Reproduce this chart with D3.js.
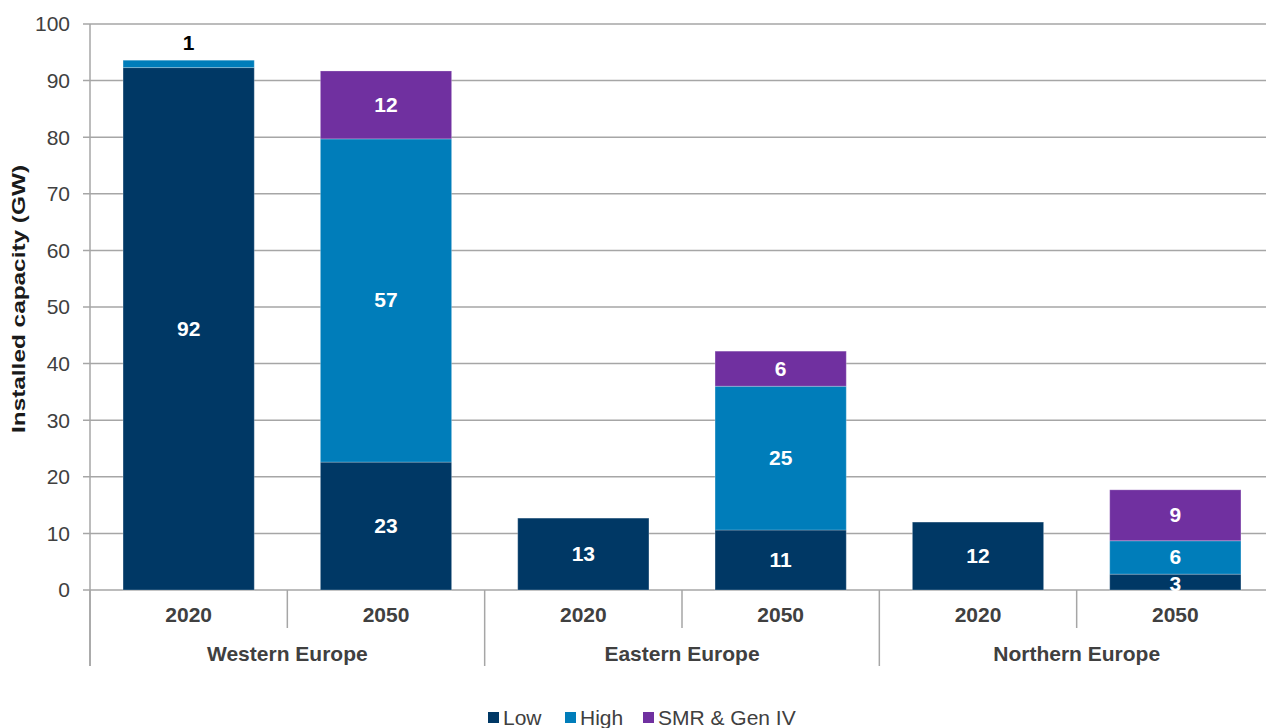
<!DOCTYPE html>
<html>
<head>
<meta charset="utf-8">
<script src="https://cdn.jsdelivr.net/npm/d3@7"></script>
<style>
  body { margin: 0; background: #fff; }
  svg { display: block; font-family: Arial, "Liberation Sans", sans-serif; }
</style>
</head>
<body>
<div id="chart"></div>
<script>
const regions = ["Western Europe", "Eastern Europe", "Northern Europe"];
const years = ["2020", "2050"];
const seriesNames = ["Low", "High", "SMR & Gen IV"];
const lowValues = [92.3, 22.6, 12.7, 10.6, 12.0, 2.8];
const highValues = [1.3, 57.1, 0, 25.4, 0, 5.9];
const smrValues = [0, 12.0, 0, 6.2, 0, 9.0];
const lowLabels = ["92", "23", "13", "11", "12", "3"];
const highLabels = ["1", "57", "", "25", "", "6"];
const smrLabels = ["", "12", "", "6", "", "9"];
const yTicks = [0, 10, 20, 30, 40, 50, 60, 70, 80, 90, 100];

const width = 1266, height = 728;
const margin = {top: 24, right: 0, bottom: 138, left: 90};
const plotRight = 1274;
const fontSize = 21;

const rows = [];
regions.forEach((r, ri) => years.forEach((yr, yi) => {
    const i = ri * 2 + yi;
    rows.push({key: r + "|" + yr, region: r, year: yr,
        "Low": lowValues[i], "High": highValues[i], "SMR & Gen IV": smrValues[i],
        labels: {"Low": lowLabels[i], "High": highLabels[i], "SMR & Gen IV": smrLabels[i]}});
}));

const series = d3.stack().keys(seriesNames)(rows);

const color = d3.scaleOrdinal().domain(seriesNames).range(["#003865", "#007DBA", "#7030A0"]);

const x = d3.scaleBand()
    .domain(rows.map(d => d.key))
    .range([margin.left, plotRight])
    .paddingInner(0.335)
    .paddingOuter(0.1675);

const y = d3.scaleLinear()
    .domain([0, 100])
    .range([height - margin.bottom, margin.top]);

const svg = d3.select("#chart").append("svg")
    .attr("width", width)
    .attr("height", height);

// gridlines
svg.append("g")
    .selectAll("line")
    .data(yTicks)
    .join("line")
    .attr("x1", margin.left - 7)
    .attr("x2", plotRight)
    .attr("y1", d => y(d))
    .attr("y2", d => y(d))
    .attr("stroke", "#a6a6a6")
    .attr("stroke-width", 1.5);

// y tick labels
svg.append("g")
    .selectAll("text")
    .data(yTicks)
    .join("text")
    .attr("x", margin.left - 20)
    .attr("y", d => y(d))
    .attr("dy", "0.35em")
    .attr("text-anchor", "end")
    .attr("fill", "#404040")
    .style("font-size", fontSize + "px")
    .text(d => d);

// y axis line
svg.append("line")
    .attr("x1", margin.left).attr("x2", margin.left)
    .attr("y1", y(100)).attr("y2", y(0) + 76)
    .attr("stroke", "#a6a6a6").attr("stroke-width", 1.5);

// bars
svg.append("g")
    .selectAll("g")
    .data(series)
    .join("g")
    .attr("fill", d => color(d.key))
    .selectAll("rect")
    .data(d => d.filter(s => s[1] - s[0] > 0))
    .join("rect")
    .attr("x", d => x(d.data.key))
    .attr("width", x.bandwidth())
    .attr("y", d => y(d[1]))
    .attr("height", d => y(d[0]) - y(d[1]))
    .attr("stroke", "rgba(255,255,255,0.25)")
    .attr("stroke-width", 1);

// value labels
series.forEach(s => {
    svg.append("g")
        .selectAll("text")
        .data(s.filter(d => d.data.labels[s.key] !== ""))
        .join("text")
        .attr("x", d => x(d.data.key) + x.bandwidth() / 2)
        .attr("y", d => {
            const h = y(d[0]) - y(d[1]);
            if (h < 10) return y(d[1]) - 10;
            if (h < 20) return y(d[0]) + 1;
            return (y(d[0]) + y(d[1])) / 2 + 7;
        })
        .attr("text-anchor", "middle")
        .attr("fill", d => (y(d[0]) - y(d[1]) < 10) ? "#000" : "#fff")
        .style("font-size", fontSize + "px")
        .style("font-weight", "bold")
        .text(d => d.data.labels[s.key]);
});

// category axis: years
const step = x.step();
svg.append("g")
    .selectAll("text")
    .data(rows)
    .join("text")
    .attr("x", d => x(d.key) + x.bandwidth() / 2)
    .attr("y", y(0) + 32)
    .attr("text-anchor", "middle")
    .attr("fill", "#404040")
    .style("font-size", fontSize + "px")
    .style("font-weight", "bold")
    .text(d => d.year);

// separators between years and regions
const sepX = rows.map(d => x(d.key) - (step - x.bandwidth()) / 2);
sepX.push(plotRight);
svg.append("g")
    .selectAll("line")
    .data(sepX)
    .join("line")
    .attr("x1", d => d).attr("x2", d => d)
    .attr("y1", y(0))
    .attr("y2", (d, i) => i % 2 === 0 ? y(0) + 76 : y(0) + 38)
    .attr("stroke", "#a6a6a6")
    .attr("stroke-width", 1.5);

// region labels
svg.append("g")
    .selectAll("text")
    .data(regions)
    .join("text")
    .attr("x", (d, i) => (sepX[i * 2] + sepX[i * 2 + 2]) / 2)
    .attr("y", y(0) + 71)
    .attr("text-anchor", "middle")
    .attr("fill", "#404040")
    .style("font-size", fontSize + "px")
    .style("font-weight", "bold")
    .text(d => d);

// y axis title
svg.append("text")
    .attr("transform", "translate(25,299) rotate(-90)")
    .attr("x", -134)
    .attr("textLength", 268)
    .attr("lengthAdjust", "spacingAndGlyphs")
    .attr("fill", "#1a1a1a")
    .style("font-size", "19px")
    .style("font-weight", "bold")
    .text("Installed capacity (GW)");

// legend
const legendX = [488, 565, 643];
const legend = svg.append("g")
    .selectAll("g")
    .data(seriesNames)
    .join("g")
    .attr("transform", (d, i) => `translate(${legendX[i]},718)`);
legend.append("rect")
    .attr("x", 0).attr("y", -6)
    .attr("width", 11).attr("height", 11)
    .attr("fill", d => color(d));
legend.append("text")
    .attr("x", 15)
    .attr("y", 0)
    .attr("dy", "0.35em")
    .attr("fill", "#404040")
    .style("font-size", fontSize + "px")
    .text(d => d);
</script>
</body>
</html>
